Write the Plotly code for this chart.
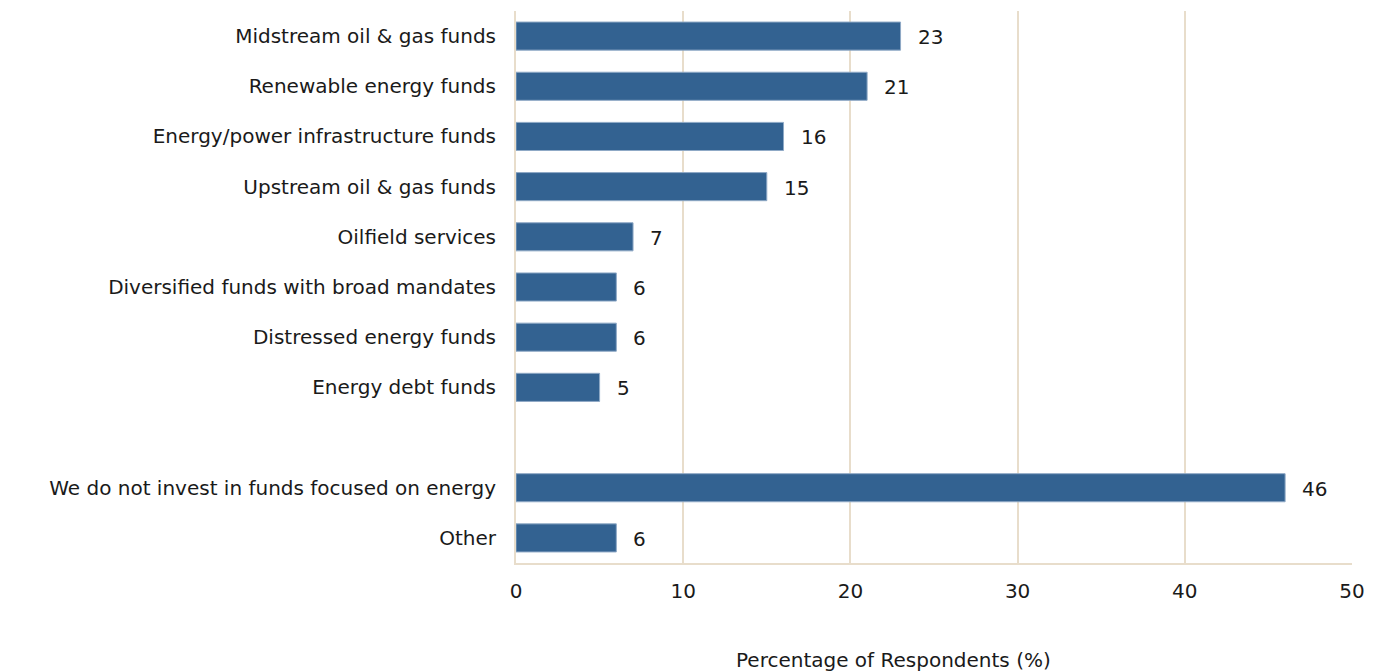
import plotly.graph_objects as go

# Survey categories, top to bottom; " " is an empty spacer row
categories = [
    "Midstream oil & gas funds",
    "Renewable energy funds",
    "Energy/power infrastructure funds",
    "Upstream oil & gas funds",
    "Oilfield services",
    "Diversified funds with broad mandates",
    "Distressed energy funds",
    "Energy debt funds",
    " ",
    "We do not invest in funds focused on energy",
    "Other",
]
values = [23, 21, 16, 15, 7, 6, 6, 5, None, 46, 6]

x_ticks = [0, 10, 20, 30, 40, 50]
x_title = "Percentage of Respondents (%)"

bar_color = "#336291"
grid_color = "#e8ddcb"
font_family = "DejaVu Sans, Verdana, sans-serif"
font_size = 20

fig = go.Figure()
fig.add_trace(go.Bar(
    y=categories,
    x=values,
    orientation="h",
    marker=dict(color=bar_color, line=dict(color="#8fa9c6", width=1)),
    hoverinfo="x+y",
))

# value labels to the right of each bar
for cat, val in zip(categories, values):
    if val is None:
        continue
    fig.add_annotation(
        x=val, y=cat, xref="x", yref="y",
        text=str(val), showarrow=False,
        xanchor="left", yanchor="middle", xshift=15, yshift=-1,
        font=dict(family=font_family, size=font_size, color="#1a1a1a"),
    )

fig.add_annotation(
    x=0.451, y=-0.175, xref="paper", yref="paper",
    text=x_title, showarrow=False,
    xanchor="center", yanchor="middle",
    font=dict(family=font_family, size=font_size, color="#1a1a1a"),
)

fig.update_layout(
    width=1379, height=671,
    margin=dict(l=516, r=27, t=11, b=108),
    paper_bgcolor="white", plot_bgcolor="white",
    font=dict(family=font_family, size=font_size, color="#1a1a1a"),
    bargap=0.44,
    showlegend=False,
)
fig.update_xaxes(
    range=[0, 50], tickvals=x_ticks,
    showgrid=True, gridcolor=grid_color, gridwidth=2,
    zeroline=False,
    showline=True, linecolor=grid_color, linewidth=2,
    ticks="", ticklabelstandoff=9,
    mirror=False,
)
fig.update_yaxes(
    categoryorder="array", categoryarray=categories,
    autorange="reversed",
    showgrid=False, zeroline=False,
    showline=True, linecolor=grid_color, linewidth=2,
    ticks="", ticklabelstandoff=14,
)

fig.write_html("out.html")
